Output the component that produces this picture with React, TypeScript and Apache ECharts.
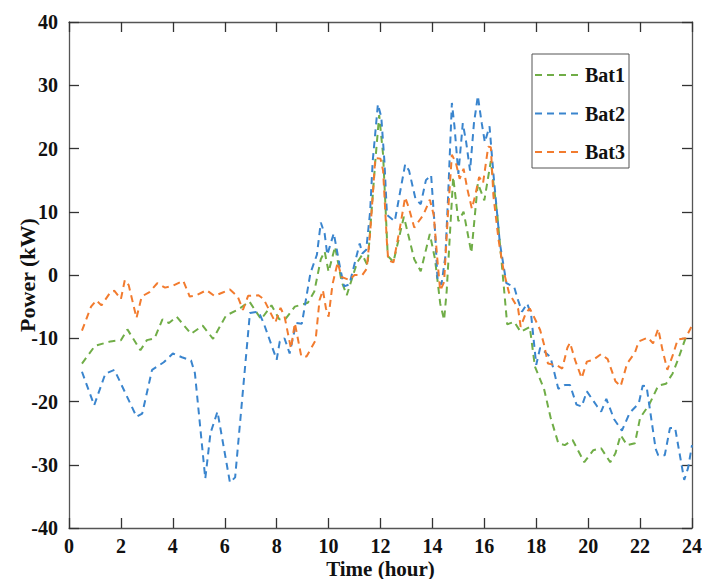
import React, { useEffect, useRef } from "react";
import * as echarts from "echarts";

// [hour, kW]
const bat1: number[][] = [
  [0.5, -14.0], [1.0, -11.2], [1.6, -10.5], [2.0, -10.3], [2.25, -8.6], [2.75, -11.9], [3.0, -10.3],
  [3.3, -10.0], [3.6, -7.0], [3.85, -7.6], [4.15, -6.6], [4.7, -9.3], [5.15, -8.0], [5.55, -10.1],
  [6.05, -6.4], [6.5, -5.5], [6.95, -4.2], [7.4, -7.0], [7.8, -4.8], [8.1, -7.0], [8.35, -6.9],
  [8.7, -5.0], [9.2, -4.4], [9.45, -2.6], [9.7, 2.5], [9.85, 3.7], [10.0, 0.5], [10.25, 4.5],
  [10.5, -1.0], [10.7, -3.2], [11.1, 2.0], [11.3, 3.2], [11.5, 1.5], [11.8, 18.0], [11.95, 25.3],
  [12.1, 19.0], [12.28, 3.0], [12.5, 2.1], [12.9, 9.2], [13.3, 2.5], [13.55, 0.6], [13.9, 6.5],
  [14.1, 2.5], [14.3, -4.5], [14.45, -7.1], [14.55, -2.5], [14.8, 15.5], [15.0, 8.5], [15.2, 10.0],
  [15.5, 3.5], [15.75, 14.5], [16.0, 11.8], [16.25, 18.0], [16.5, 9.5], [16.7, 0.5], [16.88, -7.8],
  [17.15, -7.4], [17.4, -9.0], [17.75, -8.2], [17.95, -14.5], [18.3, -18.0], [18.55, -22.5],
  [18.85, -26.6], [19.1, -26.9], [19.4, -26.1], [19.85, -29.6], [20.2, -27.7], [20.5, -27.4],
  [20.85, -29.6], [21.05, -28.2], [21.25, -25.3], [21.5, -26.9], [21.8, -26.6], [22.0, -22.6],
  [22.35, -20.5], [22.7, -17.5], [23.0, -17.2], [23.25, -15.6], [23.45, -13.5], [23.75, -10.0], [23.9, -9.6],
];

const bat2: number[][] = [
  [0.5, -15.3], [0.97, -20.6], [1.4, -15.6], [1.75, -15.0], [2.6, -22.4], [2.82, -21.9], [3.2, -15.0],
  [3.65, -13.8], [4.0, -12.4], [4.35, -13.0], [4.7, -13.5], [4.85, -15.5], [5.25, -32.2], [5.45, -25.0],
  [5.72, -21.6], [6.2, -32.8], [6.4, -32.0], [6.97, -6.0], [7.3, -5.8], [7.5, -7.6], [8.0, -13.4],
  [8.12, -10.5], [8.3, -10.0], [8.5, -12.4], [8.75, -7.6], [8.97, -7.7], [9.3, 0.3], [9.55, 3.2],
  [9.7, 8.3], [9.85, 6.5], [9.95, 3.2], [10.2, 6.6], [10.45, 1.0], [10.6, -1.8], [10.8, -1.5],
  [11.2, 5.0], [11.3, 3.4], [11.45, 4.0], [11.6, 10.0], [11.7, 18.0], [11.9, 27.0], [12.03, 25.0],
  [12.15, 18.0], [12.25, 9.5], [12.55, 8.5], [12.95, 17.5], [13.1, 16.5], [13.35, 12.0], [13.55, 11.2],
  [13.75, 15.0], [13.95, 15.8], [14.1, 7.0], [14.2, -1.0], [14.35, -1.5], [14.5, 3.0], [14.6, 12.0],
  [14.75, 27.2], [14.85, 23.5], [15.0, 16.0], [15.17, 24.0], [15.3, 21.0], [15.45, 16.5], [15.6, 24.0],
  [15.75, 28.3], [15.9, 24.0], [16.02, 21.0], [16.2, 23.5], [16.35, 16.0], [16.6, 5.0], [16.85, -1.3],
  [17.15, -1.9], [17.3, -4.0], [17.45, -5.8], [17.65, -4.5], [17.8, -6.2], [18.0, -14.2], [18.15, -11.5],
  [18.55, -13.0], [18.85, -18.0], [19.1, -17.4], [19.3, -17.4], [19.55, -20.5], [19.75, -20.8],
  [19.95, -18.4], [20.35, -20.8], [20.5, -21.6], [20.7, -19.6], [21.0, -22.8], [21.3, -24.6],
  [21.6, -21.8], [21.95, -20.3], [22.1, -17.5], [22.25, -17.6], [22.6, -27.5], [22.7, -28.5],
  [22.95, -28.5], [23.15, -24.2], [23.35, -24.2], [23.7, -32.4], [23.85, -30.5], [24.0, -26.9],
];

const bat3: number[][] = [
  [0.5, -8.8], [0.85, -5.0], [1.05, -4.0], [1.25, -4.8], [1.6, -2.7], [1.75, -2.5], [2.0, -3.8],
  [2.15, -0.8], [2.3, -1.6], [2.6, -6.8], [2.8, -3.4], [3.1, -2.7], [3.4, -1.3], [3.7, -2.0],
  [4.0, -1.7], [4.4, -0.9], [4.65, -3.4], [4.9, -3.2], [5.3, -2.4], [5.6, -3.3], [5.9, -2.8],
  [6.2, -2.3], [6.5, -3.4], [6.7, -5.5], [6.9, -3.3], [7.3, -3.2], [7.5, -3.8], [7.95, -7.5],
  [8.15, -5.2], [8.3, -6.5], [8.55, -11.6], [8.7, -7.6], [8.95, -12.9], [9.15, -12.9], [9.5, -10.3],
  [9.65, -4.0], [9.78, -2.4], [9.9, -5.3], [10.0, -6.6], [10.15, -1.5], [10.35, 2.0], [10.5, -0.3],
  [10.8, -0.8], [11.0, 0.0], [11.3, 0.0], [11.47, 1.0], [11.6, 6.6], [11.8, 18.5], [12.0, 18.4],
  [12.1, 16.5], [12.25, 5.0], [12.3, 2.3], [12.5, 2.0], [12.75, 7.5], [12.95, 12.3], [13.1, 10.5],
  [13.3, 7.5], [13.65, 9.5], [13.9, 11.9], [14.05, 9.5], [14.2, 2.0], [14.3, -2.5], [14.45, -1.1],
  [14.6, 9.8], [14.75, 19.0], [14.9, 17.8], [15.05, 15.2], [15.2, 16.8], [15.35, 13.5], [15.52, 10.5],
  [15.65, 12.6], [15.8, 15.5], [15.95, 14.5], [16.15, 20.3], [16.25, 20.2], [16.35, 12.5], [16.55, 5.5],
  [16.75, 0.5], [16.95, -2.8], [17.3, -5.3], [17.4, -8.2], [17.6, -6.0], [17.75, -5.3], [17.9, -6.5],
  [18.15, -8.7], [18.3, -11.0], [18.45, -14.0], [18.8, -14.3], [19.0, -14.8], [19.2, -11.5],
  [19.3, -10.7], [19.5, -13.5], [19.75, -16.3], [19.95, -13.7], [20.2, -13.4], [20.5, -12.5],
  [20.75, -13.3], [21.05, -16.8], [21.25, -17.6], [21.5, -14.0], [21.8, -12.3], [21.95, -10.5],
  [22.3, -9.9], [22.5, -10.8], [22.7, -8.5], [22.85, -11.6], [23.05, -15.0], [23.25, -12.8],
  [23.45, -10.2], [23.75, -10.0], [24.0, -8.0],
];

const seriesNames = ["Bat1", "Bat2", "Bat3"];
const seriesColors = ["#70AD47", "#3A85CE", "#F27B2E"];
const seriesData = [bat1, bat2, bat3];

const FONT = "'Liberation Serif', 'Times New Roman', serif";

export default function App() {
  const ref = useRef<HTMLDivElement>(null);
  useEffect(() => {
    if (!ref.current) return;
    const chart = echarts.init(ref.current, undefined, { renderer: "svg" });
    const axisLine = { show: true, onZero: false, lineStyle: { color: "#555", width: 1.3 } };
    const tick = { show: true, inside: true, length: 10, lineStyle: { color: "#333", width: 1.3 } };
    const labelStyle = { color: "#111", fontFamily: FONT, fontWeight: "bold" as const, fontSize: 20 };
    chart.setOption({
      animation: false,
      backgroundColor: "#fff",
      grid: { left: 69, right: 10, top: 22, bottom: 51, containLabel: false, outerBoundsMode: "none" },
      xAxis: [
        {
          type: "value", min: 0, max: 24, interval: 2, position: "bottom",
          axisLine, axisTick: tick, splitLine: { show: false },
          axisLabel: { ...labelStyle, margin: 8 },
          name: "Time (hour)", nameLocation: "middle", nameGap: 30, nameMoveOverlap: false,
          nameTextStyle: { color: "#111", fontFamily: FONT, fontWeight: "bold", fontSize: 21, lineHeight: 21 },
        },
        {
          type: "value", min: 0, max: 24, interval: 2, position: "top",
          axisLine, axisTick: tick, splitLine: { show: false }, axisLabel: { show: false },
        },
      ],
      yAxis: [
        {
          type: "value", min: -40, max: 40, interval: 10, position: "left",
          axisLine, axisTick: tick, splitLine: { show: false },
          axisLabel: { ...labelStyle, margin: 11 },
          name: "Power (kW)", nameLocation: "middle", nameGap: 31, nameMoveOverlap: false,
          nameTextStyle: { color: "#111", fontFamily: FONT, fontWeight: "bold", fontSize: 22 },
        },
        {
          type: "value", min: -40, max: 40, interval: 10, position: "right",
          axisLine, axisTick: tick, splitLine: { show: false }, axisLabel: { show: false },
        },
      ],
      legend: {
        orient: "vertical",
        left: 532,
        top: 54,
        itemWidth: 45,
        itemHeight: 14,
        itemGap: 18.5,
        padding: [11, 4, 6, 2],
        borderColor: "#555",
        borderWidth: 1,
        backgroundColor: "#fff",
        itemStyle: { opacity: 0 },
        textStyle: { color: "#111", fontFamily: FONT, fontWeight: "bold", fontSize: 20 },
        data: seriesNames,
      },
      series: seriesData.map((d, i) => ({
        name: seriesNames[i],
        type: "line",
        xAxisIndex: 0,
        yAxisIndex: 0,
        data: d,
        symbol: "none",
        showSymbol: false,
        lineStyle: { color: seriesColors[i], width: 2, type: [7, 5] },
        itemStyle: { color: seriesColors[i] },
      })),
    });
    return () => chart.dispose();
  }, []);
  return (
    <div
      ref={ref}
      style={{ position: "fixed", left: 0, top: 0, width: 702, height: 579, background: "#fff" }}
    />
  );
}
